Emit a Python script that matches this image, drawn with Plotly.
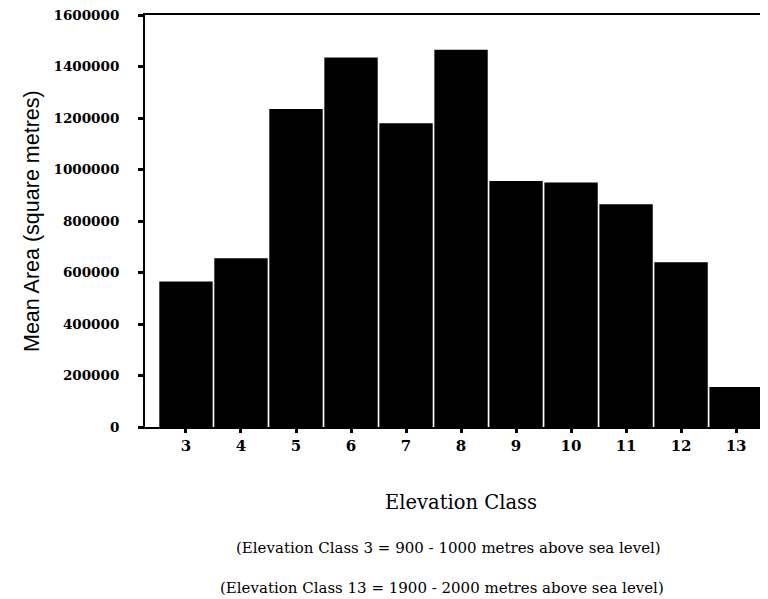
import plotly.graph_objects as go

classes = [3, 4, 5, 6, 7, 8, 9, 10, 11, 12, 13]
mean_area = [565000, 655000, 1235000, 1435000, 1180000, 1465000, 955000, 950000, 865000, 640000, 155000]
y_ticks = [0, 200000, 400000, 600000, 800000, 1000000, 1200000, 1400000, 1600000]

serif = "DejaVu Serif"
sans = "Liberation Sans"

W, H = 768, 599
OFF = 8  # page body margin offset
L, R, T, B = 145 - OFF, 8, 15 - OFF, 599 - (427 - OFF)
plot_w = W - L - R
plot_h = H - T - B


def px_x(px):
    return (px - OFF - L) / plot_w


def px_y(py):
    return (H - B - (py - OFF)) / plot_h


fig = go.Figure(go.Bar(x=classes, y=mean_area, marker=dict(color="black", line=dict(width=0))))

fig.update_layout(
    width=W, height=H,
    margin=dict(l=L, r=R, t=T, b=B),
    paper_bgcolor="white", plot_bgcolor="white",
    bargap=0.03,
    showlegend=False,
    font=dict(family=serif, color="black"),
    xaxis=dict(
        range=[2.255, 13.58], tickmode="array", tickvals=classes,
        ticktext=[f"<b>{c}</b>" for c in classes],
        showline=True, linecolor="black", linewidth=2, mirror=True,
        ticks="outside", ticklen=4, tickwidth=3, tickcolor="black",
        showgrid=False, zeroline=False, automargin=False,
        tickfont=dict(size=15, family=serif),
    ),
    yaxis=dict(
        range=[0, 1600000], tickmode="array", tickvals=y_ticks,
        ticktext=[f"<b>{v}</b>" for v in y_ticks],
        showline=True, linecolor="black", linewidth=2,
        ticks="outside", ticklen=5, tickwidth=3, tickcolor="black",
        ticklabelstandoff=16, ticklabeloverflow="allow",
        showgrid=False, zeroline=False, automargin=False,
        tickfont=dict(size=13.5, family=serif),
    ),
    annotations=[
        dict(text="Mean Area (square metres)", textangle=-90,
             x=px_x(32), y=px_y(221), xref="paper", yref="paper",
             xanchor="center", yanchor="middle", showarrow=False,
             font=dict(size=21.5, family=sans)),
        dict(text="Elevation Class", x=px_x(461), y=px_y(502), xref="paper", yref="paper",
             xanchor="center", yanchor="middle", showarrow=False,
             font=dict(size=19.5, family=serif)),
        dict(text="(Elevation Class 3 = 900 - 1000 metres above sea level)",
             x=px_x(448), y=px_y(548), xref="paper", yref="paper",
             xanchor="center", yanchor="middle", showarrow=False,
             font=dict(size=15, family=serif)),
        dict(text="(Elevation Class 13 = 1900 - 2000 metres above sea level)",
             x=px_x(442), y=px_y(588), xref="paper", yref="paper",
             xanchor="center", yanchor="middle", showarrow=False,
             font=dict(size=15, family=serif)),
    ],
)

fig.write_html("out.html")
